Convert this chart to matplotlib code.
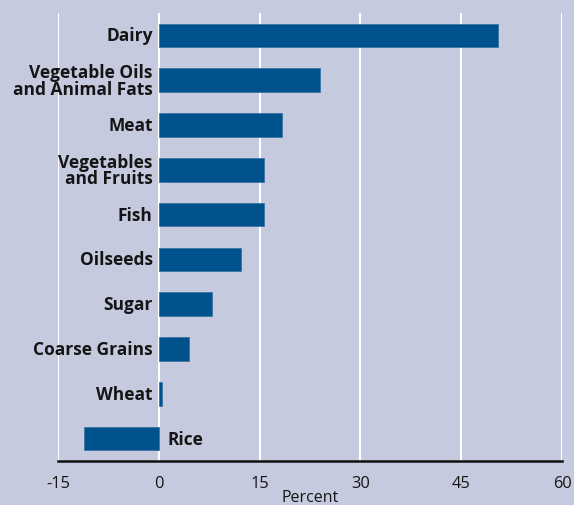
import matplotlib.pyplot as plt

categories = ['Dairy', 'Vegetable Oils\nand Animal Fats', 'Meat', 'Vegetables\nand Fruits',
              'Fish', 'Oilseeds', 'Sugar', 'Coarse Grains', 'Wheat', 'Rice']
values = [50.5, 24.0, 18.3, 15.7, 15.7, 12.2, 7.9, 4.5, 0.5, -11.1]
ticks = [-15, 0, 15, 30, 45, 60]

bg = '#c5cadf'
bar_color = '#00528c'

fig = plt.figure(figsize=(5.74, 5.06), dpi=100, facecolor=bg)
ax = fig.add_axes([58 / 574, 44 / 506, 504 / 574, 448 / 506], facecolor=bg)

n = len(categories)
ypos = [n - 1 - i for i in range(n)]

for x in ticks:
    ax.axvline(x, color='white', lw=1.5, zorder=1)

ax.barh(ypos, values, height=0.53, color=bar_color, edgecolor='#3a74a6', lw=0.6, zorder=2)

# category labels sit next to the zero line
for y, lab, v in zip(ypos, categories, values):
    if v < 0:
        ax.text(1.3, y, lab, ha='left', va='center', fontsize=12.5, fontweight='bold',
                family='Open Sans', color='#151515', zorder=3)
    else:
        ax.text(-0.9, y, lab, ha='right', va='center', fontsize=12.5, fontweight='bold',
                family='Open Sans', color='#151515', linespacing=0.9, zorder=3)

ax.set_xlim(-15, 60)
ax.set_ylim(-0.5, n - 0.5)
ax.set_xticks(ticks)
ax.set_xticklabels([str(t) for t in ticks], family='Open Sans', fontsize=11.8, color='#151515')
ax.set_yticks([])
ax.tick_params(axis='x', length=0, pad=10)
ax.set_xlabel('Percent', family='Open Sans', fontsize=11.5, labelpad=-1, color='#151515')

for s in ['top', 'left', 'right']:
    ax.spines[s].set_visible(False)
ax.spines['bottom'].set_linewidth(1.8)
ax.spines['bottom'].set_color('#111111')
ax.spines['bottom'].set_zorder(4)

fig.savefig('out.png', dpi=100, facecolor=bg)
